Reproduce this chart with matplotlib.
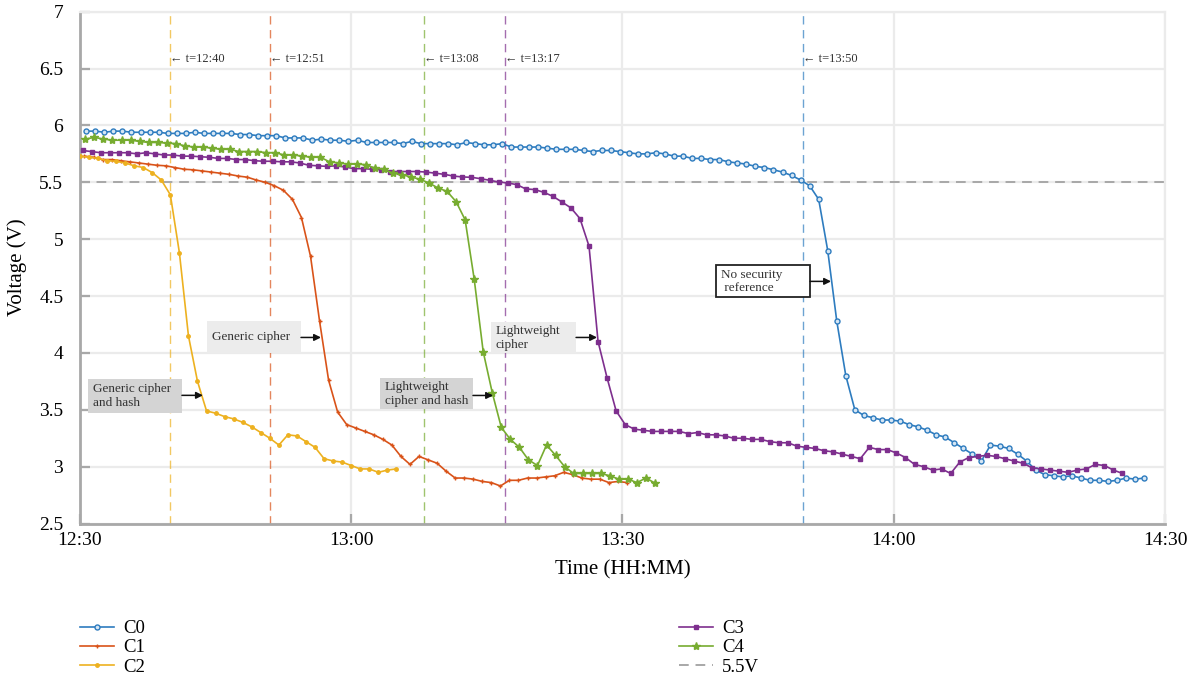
import numpy as np
import matplotlib.pyplot as plt
from matplotlib.patches import Rectangle
from matplotlib.ticker import FuncFormatter, MultipleLocator

plt.rcParams['font.family'] = ['Liberation Serif', 'DejaVu Serif']

# time of first sample, minutes after 12:30 (one sample per minute after that)
start_c0, start_c1, start_c2, start_c3, start_c4 = 0.7, 0.5, 0.0, 0.3, 0.6

# voltage readings [V]
v_c0 = [5.95, 5.95, 5.94, 5.95, 5.95, 5.94, 5.94, 5.94, 5.94, 5.93,
        5.93, 5.93, 5.94, 5.93, 5.93, 5.93, 5.93, 5.92, 5.92, 5.91,
        5.91, 5.91, 5.89, 5.89, 5.89, 5.87, 5.88, 5.87, 5.87, 5.86,
        5.87, 5.85, 5.85, 5.85, 5.85, 5.84, 5.86, 5.84, 5.84, 5.84,
        5.84, 5.83, 5.85, 5.84, 5.83, 5.83, 5.84, 5.81, 5.81, 5.81,
        5.81, 5.80, 5.79, 5.79, 5.79, 5.78, 5.77, 5.78, 5.78, 5.77,
        5.76, 5.75, 5.75, 5.76, 5.75, 5.73, 5.73, 5.71, 5.71, 5.70,
        5.70, 5.68, 5.67, 5.66, 5.64, 5.63, 5.61, 5.59, 5.56, 5.52,
        5.47, 5.35, 4.90, 4.28, 3.80, 3.50, 3.45, 3.43, 3.41, 3.41,
        3.40, 3.37, 3.35, 3.32, 3.28, 3.26, 3.21, 3.16, 3.11, 3.05,
        3.19, 3.18, 3.16, 3.11, 3.05, 2.97, 2.93, 2.92, 2.91, 2.92,
        2.90, 2.88, 2.88, 2.87, 2.88, 2.90, 2.89, 2.90]
v_c1 = [5.73, 5.72, 5.70, 5.70, 5.69, 5.68, 5.67, 5.66, 5.65, 5.645,
        5.63, 5.615, 5.61, 5.60, 5.59, 5.58, 5.57, 5.555, 5.545, 5.52,
        5.50, 5.47, 5.43, 5.35, 5.19, 4.85, 4.28, 3.76, 3.48, 3.37,
        3.34, 3.31, 3.28, 3.24, 3.19, 3.09, 3.02, 3.09, 3.06, 3.03,
        2.96, 2.90, 2.90, 2.89, 2.87, 2.86, 2.83, 2.88, 2.88, 2.90,
        2.90, 2.91, 2.92, 2.95, 2.93, 2.90, 2.89, 2.89, 2.86, 2.87,
        2.86]
v_c2 = [5.73, 5.72, 5.71, 5.69, 5.685, 5.67, 5.645, 5.63, 5.585, 5.52,
        5.39, 4.88, 4.15, 3.75, 3.49, 3.47, 3.44, 3.42, 3.39, 3.35,
        3.30, 3.25, 3.19, 3.28, 3.27, 3.22, 3.17, 3.07, 3.05, 3.04,
        3.01, 2.98, 2.98, 2.95, 2.97, 2.98]
v_c3 = [5.78, 5.77, 5.76, 5.76, 5.76, 5.76, 5.75, 5.76, 5.75, 5.74,
        5.74, 5.73, 5.73, 5.725, 5.72, 5.71, 5.71, 5.70, 5.70, 5.69,
        5.685, 5.685, 5.68, 5.68, 5.67, 5.65, 5.645, 5.64, 5.645, 5.635,
        5.62, 5.62, 5.615, 5.61, 5.595, 5.595, 5.595, 5.595, 5.59, 5.58,
        5.57, 5.555, 5.547, 5.544, 5.532, 5.518, 5.503, 5.494, 5.48, 5.442,
        5.436, 5.412, 5.377, 5.327, 5.275, 5.181, 4.939, 4.10, 3.78, 3.49,
        3.37, 3.33, 3.32, 3.31, 3.31, 3.31, 3.31, 3.29, 3.30, 3.28,
        3.28, 3.27, 3.25, 3.25, 3.24, 3.24, 3.22, 3.21, 3.21, 3.18,
        3.17, 3.16, 3.14, 3.13, 3.11, 3.09, 3.07, 3.17, 3.15, 3.15,
        3.12, 3.08, 3.02, 3.00, 2.97, 2.98, 2.94, 3.04, 3.08, 3.09,
        3.10, 3.09, 3.07, 3.05, 3.03, 2.99, 2.98, 2.97, 2.96, 2.95,
        2.97, 2.98, 3.02, 3.01, 2.97, 2.94]
v_c4 = [5.88, 5.895, 5.88, 5.87, 5.87, 5.87, 5.86, 5.85, 5.85, 5.845,
        5.84, 5.82, 5.81, 5.81, 5.80, 5.79, 5.79, 5.77, 5.77, 5.77,
        5.76, 5.76, 5.74, 5.74, 5.73, 5.72, 5.72, 5.68, 5.67, 5.66,
        5.66, 5.655, 5.625, 5.615, 5.58, 5.567, 5.547, 5.527, 5.494, 5.45,
        5.42, 5.33, 5.17, 4.65, 4.01, 3.65, 3.345, 3.24, 3.17, 3.06,
        3.01, 3.19, 3.10, 3.00, 2.94, 2.94, 2.94, 2.94, 2.92, 2.89,
        2.89, 2.86, 2.90, 2.855]

threshold = 5.5
# minutes after 12:30 where each run crosses the threshold
cross_min = [10, 21, 38, 47, 80]
cross_lbl = ['t=12:40', 't=12:51', 't=13:08', 't=13:17', 't=13:50']

blue, red, yellow, purple, green = '#2e7cbf', '#d95319', '#edb120', '#7e2f8e', '#77ac30'
cross_col = [yellow, red, green, purple, blue]

fig = plt.figure(figsize=(12.04, 6.8), dpi=100)
ax = fig.add_axes([0.0664, 0.2301, 0.9012, 0.7527])

runs = [('C0', start_c0, v_c0, blue, 'o', 3.6),
        ('C1', start_c1, v_c1, red, '+', 3.5),
        ('C2', start_c2, v_c2, yellow, '.', 5.0),
        ('C3', start_c3, v_c3, purple, 's', 3.2),
        ('C4', start_c4, v_c4, green, '*', 6.0)]
lines = {}
for name, t0, v, col, mk, ms in runs:
    t = t0 + np.arange(len(v))
    kw = dict(markerfacecolor='#d6e6f4', markeredgewidth=1.0) if mk == 'o' else {}
    lines[name], = ax.plot(t, v, color=col, marker=mk, markersize=ms, lw=1.2,
                           label=name, zorder=3, **kw)

th, = ax.plot([0, 120], [threshold, threshold], ls=(0, (5, 3.5)), color='#a8a8a8',
              lw=1.4, label='5.5V', zorder=2)

for m, lbl, col in zip(cross_min, cross_lbl, cross_col):
    ax.axvline(m, color=col, ls=(0, (6, 4)), lw=1.0, alpha=0.7, zorder=1)
    ax.text(m, 6.585, '\u2190 ' + lbl, fontsize=9, color='#333333', ha='left', va='center')

# annotation boxes: text, box (x0, y0, x1, y1), face, edge, arrow tip
notes = [('Generic cipher\nand hash', (0.88, 3.476, 11.28, 3.767), '#d4d4d4', 'none', (13.6, 3.627)),
         ('Generic cipher', (14.05, 3.996, 24.45, 4.277), '#ececec', 'none', (26.66, 4.136)),
         ('Lightweight\ncipher and hash', (33.19, 3.503, 43.47, 3.776), '#d4d4d4', 'none', (45.69, 3.626)),
         ('Lightweight\ncipher', (45.46, 3.996, 54.87, 4.268), '#ececec', 'none', (57.19, 4.136)),
         ('No security\n reference', (70.35, 4.489, 80.75, 4.770), 'white', '#222222', (83.07, 4.629))]
for txt, (x0, y0, x1, y1), fc, ec, tip in notes:
    ax.add_patch(Rectangle((x0, y0), x1 - x0, y1 - y0, facecolor=fc, edgecolor=ec,
                           lw=1.3, zorder=4))
    ax.text(x0 + 0.55, (y0 + y1) / 2, txt, fontsize=9.5, color='#333333', ha='left',
            va='center', linespacing=1.15, zorder=5)
    ax.annotate('', xy=tip, xytext=(x1, tip[1]), zorder=5,
                arrowprops=dict(arrowstyle='-|>', color='#111111', lw=1.1,
                                mutation_scale=10, shrinkA=0, shrinkB=0))

ax.set_xlim(0, 120)
ax.set_ylim(2.5, 7)
ax.xaxis.set_major_locator(MultipleLocator(30))
ax.yaxis.set_major_locator(MultipleLocator(0.5))
ax.xaxis.set_major_formatter(FuncFormatter(
    lambda m, p: f'{12 + (30 + int(m)) // 60}:{(30 + int(m)) % 60:02d}'))
ax.yaxis.set_major_formatter(FuncFormatter(lambda v, p: f'{v:g}'))
ax.grid(color='#ebebeb', lw=1.6, zorder=0)
ax.set_axisbelow(True)
ax.tick_params(direction='in', length=7, width=1.6, color='#a8a8a8', labelsize=14)
ax.tick_params(axis='y', pad=12)
ax.tick_params(axis='x', pad=6)
for s in ['left', 'bottom']:
    ax.spines[s].set_color('#a8a8a8')
    ax.spines[s].set_linewidth(2.0)
for s in ['top', 'right']:
    ax.spines[s].set_color('#ebebeb')
    ax.spines[s].set_linewidth(1.6)

ax.set_xlabel('Time (HH:MM)', fontsize=15, labelpad=8)
ax.set_ylabel('Voltage (V)', fontsize=15, labelpad=9)

leg_kw = dict(frameon=False, fontsize=13.5, handlelength=1.8, handletextpad=0.5,
              labelspacing=0.12, loc='upper left', borderaxespad=0, borderpad=0)
fig.legend([lines['C0'], lines['C1'], lines['C2']], ['C0', 'C1', 'C2'],
           bbox_to_anchor=(80 / 1204, 1 - 620 / 680), **leg_kw)
fig.legend([lines['C3'], lines['C4'], th], ['C3', 'C4', '5.5V'],
           bbox_to_anchor=(679 / 1204, 1 - 620 / 680), **leg_kw)

plt.savefig('out.png', dpi=100)
